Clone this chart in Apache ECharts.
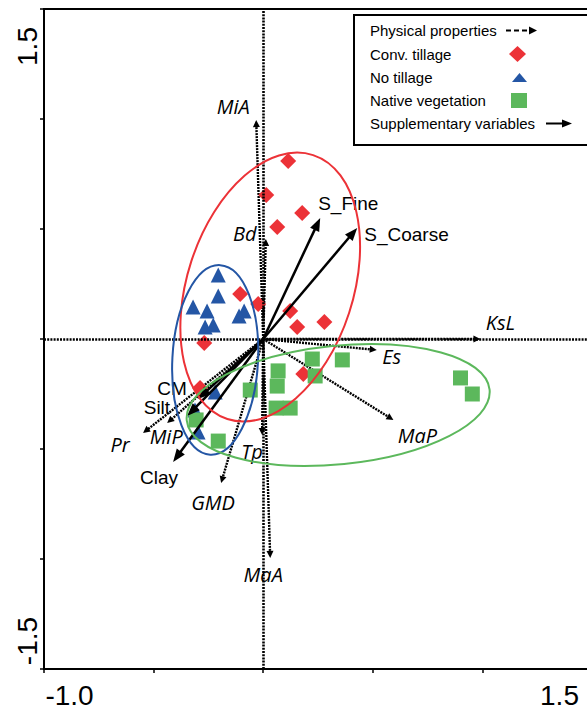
<!DOCTYPE html>
<html>
<head>
<meta charset="utf-8">
<script src="https://cdn.jsdelivr.net/npm/echarts@6/dist/echarts.min.js"></script>
<style>
html,body{margin:0;padding:0;background:#fff;}
#chart{width:587px;height:709px;}
</style>
</head>
<body>
<div id="chart"></div>
<script>
// ---------- data ----------
const xTickLabels = [-1.0, 1.5];
const yTickLabels = [1.5, -1.5];

const convTillage = [
  [0.114, 0.809], [0.014, 0.655], [0.178, 0.573], [0.064, 0.509],
  [-0.105, 0.205], [-0.023, 0.159], [0.123, 0.127], [0.155, 0.055],
  [0.279, 0.077], [-0.269, -0.018], [0.183, -0.159], [-0.288, -0.223]
];
const noTillage = [
  [-0.205, 0.291], [-0.205, 0.195], [-0.320, 0.145], [-0.256, 0.127],
  [-0.087, 0.127], [-0.110, 0.105], [-0.265, 0.055], [-0.228, 0.064],
  [-0.219, -0.241], [-0.311, -0.323], [-0.297, -0.423]
];
const nativeVegetation = [
  [0.224, -0.091], [0.361, -0.095], [0.068, -0.145], [0.237, -0.168],
  [-0.059, -0.232], [0.064, -0.214], [0.059, -0.314], [0.123, -0.314],
  [0.900, -0.177], [0.954, -0.250], [-0.306, -0.368], [-0.205, -0.464]
];

const physNames = ['MiA', 'Bd', 'KsL', 'Es', 'MaP', 'MaA', 'Tp', 'GMD', 'Pr', 'MiP'];
const physX = [-0.032, 0.012, 0.991, 0.518, 0.594, 0.032, -0.005, -0.192, -0.548, -0.438];
const physY = [0.995, 0.455, 0.000, -0.050, -0.368, -0.995, -0.436, -0.655, -0.427, -0.382];

const suppNames = ['S_Fine', 'S_Coarse', 'Clay', 'Silt', 'CM'];
const suppX = [0.260, 0.429, -0.411, -0.347, -0.297];
const suppY = [0.550, 0.505, -0.559, -0.350, -0.273];

const ellipseGroups = ['Conv. tillage', 'No tillage', 'Native vegetation'];
const ellipseCenterX = [0.032, -0.219, 0.342];
const ellipseCenterY = [0.236, -0.095, -0.300];
const ellipseMajor = [0.632, 0.432, 0.693];
const ellipseMinor = [0.378, 0.195, 0.270];
const ellipseAngle = [72, 87, 5.8];

// ---------- styling / layout ----------
const RED = '#EC3237', BLUE = '#2456A5', GREEN = '#5CB85C';
const ellipseColors = [RED, BLUE, GREEN];

// label offsets in pixels relative to arrow tip: [dx, dy, align]
const labelPlacement = {
  MiA: [-23, -14, 'center'], Bd: [-21, -5, 'center'], KsL: [20, -17, 'center'],
  Es: [15, 6, 'center'], MaP: [24, 16, 'center'], MaA: [-7, 17, 'center'],
  Tp: [-10, 17, 'center'], GMD: [-8, 19, 'center'], Pr: [-23, 12, 'center'],
  MiP: [-1, 13, 'center'],
  S_Fine: [-2, -15, 'left'], S_Coarse: [7, 7, 'left'], Clay: [-14, 16, 'center'],
  Silt: [-17, -9, 'right'], CM: [-26, -11, 'center']
};

function makeArrowRenderer(names, opts) {
  return function (params, api) {
    const name = names[params.dataIndex];
    const o = api.coord([0, 0]);
    const p = api.coord([api.value(0), api.value(1)]);
    const dx = p[0] - o[0], dy = p[1] - o[1];
    const len = Math.hypot(dx, dy) || 1;
    const ux = dx / len, uy = dy / len;
    const bx = p[0] - ux * opts.headLen, by = p[1] - uy * opts.headLen;
    const head = [[p[0], p[1]], [bx - uy * opts.headHalf, by + ux * opts.headHalf], [bx + uy * opts.headHalf, by - ux * opts.headHalf]];
    const lp = labelPlacement[name] || [0, 0, 'center'];
    return {
      type: 'group',
      children: [
        { type: 'line', shape: { x1: o[0], y1: o[1], x2: bx + ux, y2: by + uy },
          style: { stroke: '#000', lineWidth: opts.lineWidth, lineDash: opts.dash, fill: null } },
        { type: 'polygon', shape: { points: head }, style: { fill: '#000', stroke: null } },
        { type: 'text', style: { text: name, x: p[0] + lp[0], y: p[1] + lp[1], align: lp[2], verticalAlign: 'middle',
          fill: '#000', fontSize: opts.fontSize, fontFamily: opts.fontFamily, fontStyle: opts.fontStyle } }
      ]
    };
  };
}

function legendFor(name, icon, w, h, textWidth, rowCenter) {
  return {
    data: [{ name: name, icon: icon }],
    orient: 'vertical', align: 'right', left: 370, top: rowCenter - 8,
    itemWidth: w, itemHeight: h, padding: 0, selectedMode: false, z: 6,
    formatter: n => '{t|' + n + '}',
    textStyle: { rich: { t: { width: textWidth, align: 'left', fontSize: 15, lineHeight: 16,
      fontFamily: 'Liberation Sans, Arial, sans-serif', color: '#000' } } }
  };
}

const fmt = v => v.toFixed(1);
const near = (a, b) => Math.abs(a - b) < 1e-9;

const chart = echarts.init(document.getElementById('chart'), null, { renderer: 'svg' });

const option = {
  animation: false,
  backgroundColor: '#fff',
  grid: { left: 44, right: -5, top: 9, bottom: 40, show: true, borderColor: '#000', borderWidth: 2,
    containLabel: false, outerBoundsMode: 'none' },
  xAxis: {
    type: 'value', min: -1.0, max: 1.5, interval: 0.5,
    splitLine: { show: false },
    axisLine: { show: true, onZero: false, lineStyle: { color: '#000', width: 2 } },
    axisTick: { show: true, length: 4, lineStyle: { color: '#000', width: 1.5 } },
    axisLabel: {
      show: true, showMinLabel: true, showMaxLabel: true, margin: 12, color: '#000',
      fontSize: 28, fontFamily: 'Liberation Sans, Arial, sans-serif',
      formatter: v => near(v, xTickLabels[0]) ? '{a|' + fmt(v) + '}' : (near(v, xTickLabels[1]) ? '{b|' + fmt(v) + '}' : ''),
      rich: {
        a: { padding: [0, 0, 0, 51], fontSize: 28, fontFamily: 'Liberation Sans, Arial, sans-serif', color: '#000' },
        b: { padding: [0, 65, 0, 0], fontSize: 28, fontFamily: 'Liberation Sans, Arial, sans-serif', color: '#000' }
      }
    }
  },
  yAxis: {
    type: 'value', min: -1.5, max: 1.5, interval: 0.5,
    splitLine: { show: false },
    axisLine: { show: true, onZero: false, lineStyle: { color: '#000', width: 2 } },
    axisTick: { show: true, length: 4, lineStyle: { color: '#000', width: 1.5 } },
    axisLabel: {
      show: true, showMinLabel: true, showMaxLabel: true, rotate: 90, margin: 3, color: '#000',
      fontSize: 28, fontFamily: 'Liberation Sans, Arial, sans-serif',
      formatter: v => near(v, yTickLabels[0]) ? '{a|' + fmt(v) + '}' : (near(v, yTickLabels[1]) ? '{b|' + fmt(v) + '}' : ''),
      rich: {
        a: { padding: [0, 75, 0, 0], fontSize: 28, fontFamily: 'Liberation Sans, Arial, sans-serif', color: '#000' },
        b: { padding: [0, 0, 0, 56], fontSize: 28, fontFamily: 'Liberation Sans, Arial, sans-serif', color: '#000' }
      }
    }
  },
  legend: [
    legendFor('Physical properties', 'path://M0,3h5v2h-5z M8,3h5v2h-5z M16,3h5v2h-5z M23,0L31,4L23,8z', 31, 8, 131, 31),
    legendFor('Conv. tillage', 'diamond', 17, 16, 134, 54),
    legendFor('No tillage', 'path://M0,9L7.5,0L15,9Z', 15, 9, 137, 78),
    legendFor('Native vegetation', 'rect', 16, 15, 136, 101),
    legendFor('Supplementary variables', 'path://M0,3h17v2h-17z M16,0L26,4L16,8z', 26, 8, 171, 124)
  ],
  graphic: [
    { type: 'rect', z: 3, shape: { x: 354, y: 15, width: 240, height: 130 },
      style: { fill: '#fff', stroke: '#000', lineWidth: 2 } }
  ],
  series: [
    {
      name: 'Physical properties', type: 'custom', coordinateSystem: 'cartesian2d', z: 2,
      itemStyle: { color: '#000' },
      data: physNames.map((n, i) => ({ name: n, value: [physX[i], physY[i]] })),
      encode: { x: 0, y: 1 },
      renderItem: makeArrowRenderer(physNames, { headLen: 7, headHalf: 3.5, lineWidth: 2.4, dash: [2, 1],
        fontSize: 20, fontFamily: 'Open Sans, Noto Sans, sans-serif', fontStyle: 'italic' }),
      markLine: {
        silent: true, symbol: ['none', 'none'], label: { show: false },
        lineStyle: { color: '#000', type: [2, 1.2], width: 2.6 },
        emphasis: { disabled: true },
        data: [{ xAxis: 0 }, { yAxis: 0 }]
      }
    },
    { name: 'Conv. tillage', type: 'scatter', z: 3, symbol: 'diamond', symbolSize: 16,
      itemStyle: { color: RED, opacity: 1 }, data: convTillage },
    { name: 'No tillage', type: 'scatter', z: 3, symbol: 'triangle', symbolSize: 15,
      itemStyle: { color: BLUE, opacity: 1 }, data: noTillage },
    { name: 'Native vegetation', type: 'scatter', z: 3, symbol: 'rect', symbolSize: 15,
      itemStyle: { color: GREEN, opacity: 1 }, data: nativeVegetation },
    {
      name: 'Supplementary variables', type: 'custom', coordinateSystem: 'cartesian2d', z: 4,
      itemStyle: { color: '#000' },
      data: suppNames.map((n, i) => ({ name: n, value: [suppX[i], suppY[i]] })),
      encode: { x: 0, y: 1 },
      renderItem: makeArrowRenderer(suppNames, { headLen: 13, headHalf: 5, lineWidth: 2.5, dash: null,
        fontSize: 19, fontFamily: 'Liberation Sans, Arial, sans-serif', fontStyle: 'normal' })
    },
    {
      name: 'Confidence ellipses', type: 'custom', coordinateSystem: 'cartesian2d', z: 5,
      data: ellipseGroups.map((g, i) => ({ name: g, value: [ellipseCenterX[i], ellipseCenterY[i], ellipseMajor[i], ellipseMinor[i], ellipseAngle[i]] })),
      encode: { x: 0, y: 1 },
      renderItem: function (params, api) {
        const c = api.coord([api.value(0), api.value(1)]);
        const s = api.size([1, 1]);
        const k = (s[0] + s[1]) / 2;
        return {
          type: 'ellipse', x: c[0], y: c[1], rotation: api.value(4) * Math.PI / 180,
          shape: { cx: 0, cy: 0, rx: api.value(2) * k, ry: api.value(3) * k },
          style: { fill: 'none', stroke: ellipseColors[params.dataIndex], lineWidth: 2 }
        };
      }
    }
  ]
};

chart.setOption(option);
</script>
</body>
</html>
